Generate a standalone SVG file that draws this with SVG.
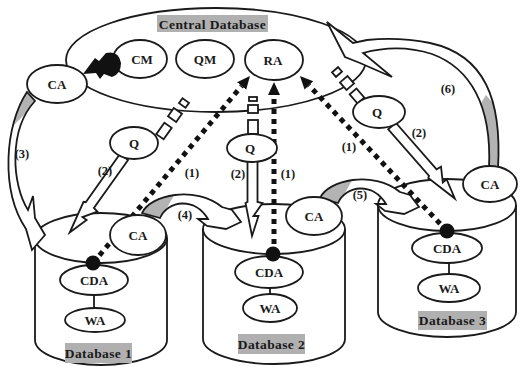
<svg xmlns="http://www.w3.org/2000/svg" width="520" height="367" viewBox="0 0 520 367">
<defs>
<style>
.n{fill:#fff;stroke:#1a1a1a;stroke-width:1.8}
.o{fill:none;stroke:#1a1a1a;stroke-width:1.8;stroke-linejoin:miter}
.w{fill:#fff;stroke:none}
.g{fill:#b3b3b3;stroke:none}
.s{fill:none;stroke:#1a1a1a;stroke-width:1.8}
.t{font-family:"Liberation Serif","Times New Roman",serif;font-weight:bold;font-size:13px;fill:#1a1a1a;text-anchor:middle}
.l{font-size:12.5px}
.ttl{font-size:13.5px;letter-spacing:0.4px}
.box{fill:#b0b0b0}
.dot{fill:none;stroke:#111;stroke-width:5;stroke-dasharray:5 5}
.bd{fill:#111}
</style>
<marker id="ah" markerUnits="userSpaceOnUse" markerWidth="14" markerHeight="14" viewBox="0 0 14 14" refX="0" refY="7" orient="auto"><path d="M0,1 L13,7 L0,13 z" fill="#111"/></marker>
<path id="curl" d="M142,213 C150,195 195,185 222,207 L232,210 L241,222 L226,229 L207,226 L198,219 L208,219 C195,197 168,200 160,218 Z"/>
<clipPath id="curlClip"><path d="M142,213 C150,195 195,185 222,207 L232,210 L241,222 L226,229 L207,226 L198,219 L208,219 C195,197 168,200 160,218 Z"/></clipPath>
<g id="curlArrow">
<use href="#curl" class="w"/>
<polygon class="g" clip-path="url(#curlClip)" points="130,230 130,188 178,188 157,226"/>
<use href="#curl" class="o"/>
</g>
<clipPath id="c3"><path d="M27,92 C5,125 0,190 26,229 L32,250 L45,235 L35,218 L33,196 L28,210 C12,185 8,130 35,101 Z"/></clipPath>
<clipPath id="c6"><path d="M498,168 C502,100 485,55 430,43 C405,38 385,38 367,40 L353,43 L327,22 L345,57 L360,63 L392,77 L363,53 C385,47 410,47 432,54 C470,68 492,105 489,168 Z"/></clipPath>
</defs>
<rect x="0" y="0" width="520" height="367" fill="#fff"/>

<g id="central-database">
<ellipse class="n" cx="216" cy="60" rx="150" ry="52"/>
<rect class="box" x="157" y="15" width="111" height="17"/>
<text class="t ttl" x="212.5" y="28.5">Central Database</text>
</g>
<g id="cm"><ellipse class="n" cx="140" cy="59" rx="27" ry="19"/><text class="t" x="142" y="64">CM</text></g>
<g id="qm"><ellipse class="n" cx="205" cy="59" rx="29" ry="19"/><text class="t" x="205" y="64">QM</text></g>
<g id="ra"><ellipse class="n" cx="274" cy="60" rx="29" ry="20"/><text class="t" x="273" y="65">RA</text></g>

<g id="database-1">
<path class="n" d="M35,238 L35,340 A66,25 0 0 0 167,340 L167,238"/>
<ellipse class="n" cx="101" cy="238" rx="66" ry="25"/>
<rect class="box" x="65" y="343" width="67" height="20"/>
<text class="t ttl" x="98.5" y="358">Database 1</text>
</g>
<g id="database-2">
<path class="n" d="M203,229 L203,339 A71,25 0 0 0 345,339 L345,229"/>
<ellipse class="n" cx="274" cy="229" rx="71" ry="25"/>
<rect class="box" x="238" y="334" width="67" height="20"/>
<text class="t ttl" x="271.5" y="349">Database 2</text>
</g>
<g id="database-3">
<path class="n" d="M378,205 L378,312 A69,25 0 0 0 516,312 L516,205"/>
<ellipse class="n" cx="447" cy="205" rx="69" ry="26"/>
<rect class="box" x="418" y="311" width="69" height="19"/>
<text class="t ttl" x="452.5" y="325">Database 3</text>
</g>

<g id="cda-1"><ellipse class="n" cx="94" cy="280" rx="34" ry="15"/><text class="t" x="94" y="285">CDA</text></g>
<g id="wa-1"><ellipse class="n" cx="95" cy="320" rx="30" ry="12"/><text class="t" x="95" y="325">WA</text></g>
<g id="cda-2"><ellipse class="n" cx="269" cy="272" rx="34" ry="16"/><text class="t" x="269" y="277">CDA</text></g>
<g id="wa-2"><ellipse class="n" cx="270" cy="308" rx="27" ry="14"/><text class="t" x="270" y="313">WA</text></g>
<g id="cda-3"><ellipse class="n" cx="447" cy="248" rx="35" ry="15"/><text class="t" x="447" y="253">CDA</text></g>
<g id="wa-3"><ellipse class="n" cx="449" cy="288" rx="31" ry="14"/><text class="t" x="449" y="293">WA</text></g>

<g id="connectors">
<line class="s" x1="94" y1="295" x2="94" y2="308"/>
<line class="s" x1="270" y1="288" x2="270" y2="294"/>
<line class="s" x1="449" y1="263" x2="449" y2="274"/>

<!-- (6) -->
<g id="arrow-6">
<path class="w" d="M498,168 C502,100 485,55 430,43 C405,38 385,38 367,40 L353,43 L327,22 L345,57 L360,63 L392,77 L363,53 C385,47 410,47 432,54 C470,68 492,105 489,168 Z"/>
<polygon class="g" clip-path="url(#c6)" points="486,95 506,118 506,165 478,165 478,108"/>
<path class="o" d="M498,168 C502,100 485,55 430,43 C405,38 385,38 367,40 L353,43 L327,22 L345,57 L360,63 L392,77 L363,53 C385,47 410,47 432,54 C470,68 492,105 489,168 Z"/>
</g>
<!-- (3) -->
<g id="arrow-3">
<path class="w" d="M27,92 C5,125 0,190 26,229 L32,250 L45,235 L35,218 L33,196 L28,210 C12,185 8,130 35,101 Z"/>
<polygon class="g" clip-path="url(#c3)" points="15,84 42,94 35,104 11,128 0,128 0,84"/>
<path class="o" d="M27,92 C5,125 0,190 26,229 L32,250 L45,235 L35,218 L33,196 L28,210 C12,185 8,130 35,101 Z"/>
</g>
<!-- (4) and (5) -->
<use id="arrow-4" href="#curlArrow"/>
<use id="arrow-5" href="#curlArrow" transform="translate(178,-15)"/>

<!-- (1) dotted -->
<line class="dot" x1="93" y1="263" x2="241.6" y2="86" marker-end="url(#ah)"/>
<line class="dot" x1="274" y1="254" x2="274" y2="95" marker-end="url(#ah)"/>
<line class="dot" x1="447" y1="231" x2="308.9" y2="85.4" marker-end="url(#ah)"/>
<circle class="bd" cx="93" cy="263" r="7.5"/>
<circle class="bd" cx="273" cy="254" r="7.5"/>
<circle class="bd" cx="447" cy="231" r="7.5"/>

<!-- (2) arrows -->
<path class="n" transform="translate(124,157) rotate(35.4)" d="M-5,0 L5,0 L5,59 L10,60 L1,73 L6,73 L-0.5,93 L-7,60 L-5,59 Z"/>
<path class="n" transform="translate(252.5,161)" d="M-5,0 L5,0 L5,41 L10,42 L1,55 L6,55 L-0.5,75 L-7,42 L-5,41 Z"/>
<path class="n" transform="translate(392,126) rotate(-41.2)" d="M-5,0 L5,0 L5,62 L10,63 L1,76 L6,76 L-0.5,96 L-7,63 L-5,62 Z"/>

<!-- stems -->
<rect class="n" x="-4.5" y="-7" width="9" height="14" transform="translate(164,131) rotate(35.4)"/>
<rect class="n" x="-5" y="-5" width="10" height="10" transform="translate(175,115) rotate(35.4)"/>
<rect class="n" x="-4" y="-3" width="8" height="6" transform="translate(184,103) rotate(35.4)"/>
<rect class="n" x="248" y="120" width="10" height="14"/>
<rect class="n" x="248" y="105" width="10" height="8"/>
<rect class="n" x="249" y="97" width="8" height="4"/>
<rect class="n" x="-4.5" y="-6" width="9" height="12" transform="translate(357,96) rotate(-41.2)"/>
<rect class="n" x="-5" y="-5" width="10" height="10" transform="translate(347,83) rotate(-41.2)"/>
<rect class="n" x="-4" y="-3" width="8" height="6" transform="translate(337,72) rotate(-41.2)"/>

<!-- CM to CA black arrow -->
<path class="bd" d="M83,74 L95,58 L99,61 L106,53 Q119,50 121,63 Q121,74 112,77 L104,74 L100,79 L96,73 Z"/>

<text class="t l" x="192" y="177">(1)</text>
<text class="t l" x="288" y="178">(1)</text>
<text class="t l" x="349" y="151">(1)</text>
<text class="t l" x="105" y="175">(2)</text>
<text class="t l" x="238" y="178">(2)</text>
<text class="t l" x="419" y="137">(2)</text>
<text class="t l" x="22" y="158">(3)</text>
<text class="t l" x="185" y="219">(4)</text>
<text class="t l" x="360" y="199">(5)</text>
<text class="t l" x="448" y="93">(6)</text>
</g>

<g id="ca-1"><ellipse class="n" cx="138" cy="235" rx="28" ry="20"/><text class="t" x="138" y="240">CA</text></g>
<g id="ca-2"><ellipse class="n" cx="314" cy="216" rx="28" ry="19"/><text class="t" x="314" y="221">CA</text></g>
<g id="ca-3"><ellipse class="n" cx="490" cy="184" rx="27" ry="18"/><text class="t" x="490" y="189">CA</text></g>
<g id="ca-central"><ellipse class="n" cx="57" cy="84" rx="30" ry="19"/><text class="t" x="57" y="89">CA</text></g>
<g id="q-1"><ellipse class="n" cx="134" cy="143" rx="24" ry="16"/><text class="t" x="134" y="148">Q</text></g>
<g id="q-2"><ellipse class="n" cx="252" cy="148" rx="25" ry="14"/><text class="t" x="250" y="153">Q</text></g>
<g id="q-3"><ellipse class="n" cx="379" cy="112" rx="26" ry="16"/><text class="t" x="377" y="117">Q</text></g>
</svg>
